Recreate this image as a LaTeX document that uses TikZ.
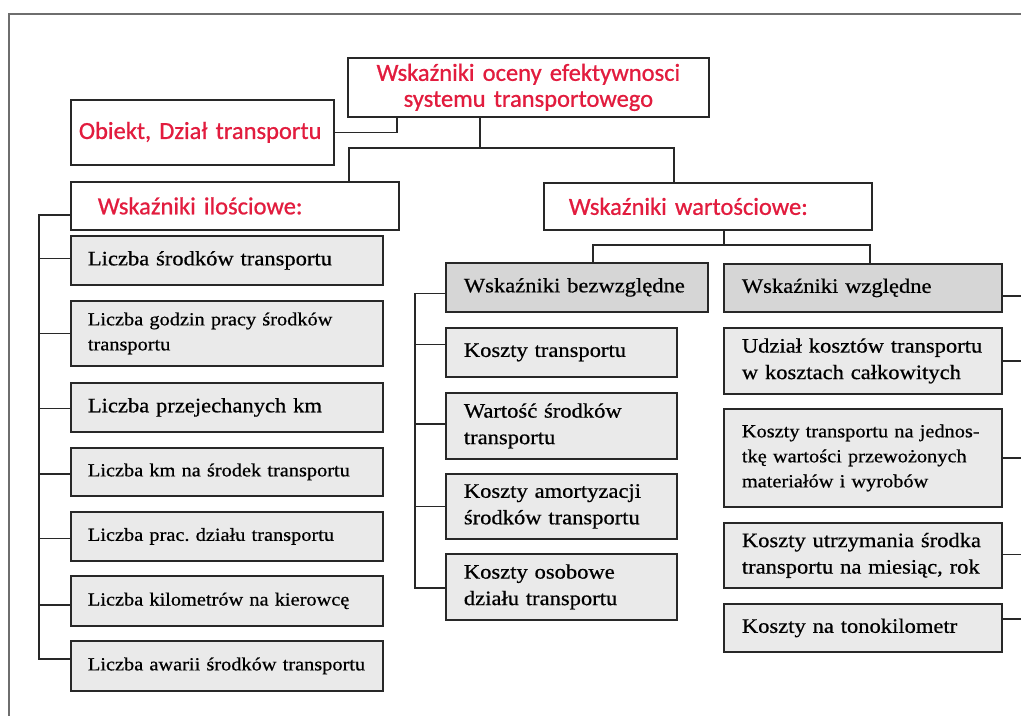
\documentclass[tikz,border=0pt]{standalone}
\usepackage{fontspec}
\setmainfont{Liberation Serif}[FakeStretch=1.1,FakeBold=0.6]
\newfontfamily\redfont{Carlito}[FakeBold=0.8]
\usetikzlibrary{calc}
\frenchspacing
\definecolor{redt}{RGB}{226,28,62}
\definecolor{boxline}{RGB}{40,40,40}
\definecolor{itemfill}{RGB}{234,234,234}
\definecolor{headfill}{RGB}{214,214,214}
\definecolor{framec}{RGB}{110,110,110}
\newcommand{\fsL}{\fontsize{20.5}{26.5}\selectfont}
\newcommand{\fsS}{\fontsize{18.5}{25}\selectfont}
\tikzset{
  base/.style={draw=boxline, line width=1.8pt, anchor=north west, rectangle, inner ysep=0pt, align=left},
  redbox/.style={base, fill=white, text=redt, font=\redfont\fontsize{24.5}{26}\selectfont},
  item/.style={base, fill=itemfill, text=black},
  head/.style={base, fill=headfill, text=black},
  conn/.style={draw=boxline, line width=1.6pt},
  sz/.code n args={3}{\pgfmathsetmacro\tw{#1-2*#3}\tikzset{minimum width=#1pt, minimum height=#2pt, inner xsep=#3pt, text width=\tw pt}},
}
\begin{document}
\begin{tikzpicture}[x=1pt,y=1pt]
\useasboundingbox (0,0) rectangle (1021,-716);
% frame
\coordinate (fa) at (1021,-14);
\coordinate (fb) at (9,-14);
\coordinate (fc) at (9,-716);
\draw[framec, line width=1.8pt] (fa) -- (fb) -- (fc);
\coordinate (edge) at (1021,0);

% top level
\node[redbox, sz={361}{59}{10}, align=center] (root) at (347,-57) {Wskaźniki oceny efektywnosci\\systemu transportowego};
\node[redbox, sz={263}{65}{8}] (ob) at (70,-99) {Obiekt, Dział transportu};
\node[redbox, sz={328}{48}{27}] (il) at (70,-181) {Wskaźniki ilościowe:};
\node[redbox, sz={328}{47}{25}] (wa) at (543,-182) {Wskaźniki wartościowe:};

% left column
\node[item, sz={312}{49}{17}, font=\fsL] (l1) at (70,-235) {Liczba środków transportu};
\node[item, sz={312}{65}{17}, font=\fsS] (l2) at (70,-300) {Liczba godzin pracy środków\\transportu};
\node[item, sz={312}{49}{17}, font=\fsL] (l3) at (70,-382) {Liczba przejechanych km};
\node[item, sz={312}{48}{17}, font=\fsS] (l4) at (70,-447) {Liczba km na środek transportu};
\node[item, sz={312}{49}{17}, font=\fsS] (l5) at (70,-511) {Liczba prac. działu transportu};
\node[item, sz={312}{50}{17}, font=\fsS] (l6) at (70,-575) {Liczba kilometrów na kierowcę};
\node[item, sz={312}{50}{17}, font=\fsS] (l7) at (70,-640) {Liczba awarii środków transportu};

% middle column
\node[head, sz={262}{49}{18}, font=\fsL] (bz) at (445,-262) {Wskaźniki bezwzględne};
\node[item, sz={231}{49}{18}, font=\fsL] (m1) at (445,-327) {Koszty transportu};
\node[item, sz={231}{66}{18}, font=\fsL] (m2) at (445,-392) {Wartość środków\\transportu};
\node[item, sz={231}{65}{18}, font=\fsL] (m3) at (445,-473) {Koszty amortyzacji\\środków transportu};
\node[item, sz={231}{66}{18}, font=\fsL] (m4) at (445,-553) {Koszty osobowe\\działu transportu};

% right column
\node[head, sz={278}{48}{18}, font=\fsL] (wz) at (723,-263) {Wskaźniki względne};
\node[item, sz={278}{66}{18}, font=\fsL] (r1) at (723,-327) {Udział kosztów transportu\\w kosztach całkowitych};
\node[item, sz={278}{98}{18}, font=\fsS] (r2) at (723,-408) {Koszty transportu na jednos-\\tkę wartości przewożonych\\materiałów i wyrobów};
\node[item, sz={278}{65}{18}, font=\fsL] (r3) at (723,-522) {Koszty utrzymania środka\\transportu na miesiąc, rok};
\node[item, sz={278}{48}{18}, font=\fsL] (r4) at (723,-603) {Koszty na tonokilometr};

% connectors: top
\coordinate (rj) at (397,-116);
\draw[conn] (ob.east) -| (rj);
\coordinate (rootb) at (480,-116);
\coordinate (bus) at (480,-148);
\coordinate (ilt) at (349,-181);
\coordinate (wat) at (674,-182);
\draw[conn] (rootb) -- (bus);
\draw[conn] (ilt) |- (bus) -| (wat);

% left bus
\coordinate (ilw) at (70,-215);
\coordinate (lb) at (39,-215);
\coordinate (l7s) at ($(l7.west)+(0,7)$);
\draw[conn] (ilw) -- (lb) |- (l7s);
\foreach \n/\s in {l1/2,l2/0,l3/-1,l4/-2,l5/-2,l6/-4}{
  \draw[conn] ($(\n.west)+(0,\s)$) coordinate (t) -- (t -| lb);
}

% value branch
\coordinate (wab) at (724,-229);
\coordinate (wbus) at (724,-245);
\coordinate (bzt) at (593,-262);
\coordinate (wzt) at (870,-263);
\draw[conn] (wab) -- (wbus);
\draw[conn] (bzt) |- (wbus) -| (wzt);

% middle bus
\coordinate (bzw) at ($(bz.west)+(0,-6)$);
\coordinate (mb) at (415,0);
\coordinate (m4s) at ($(m4.west)+(0,-1)$);
\draw[conn] (bzw) -- (bzw -| mb) |- (m4s);
\foreach \n/\s in {m1/8,m2/2,m3/0}{
  \draw[conn] ($(\n.west)+(0,\s)$) coordinate (t) -- (t -| mb);
}

% right stubs
\foreach \n/\s in {wz/-8,r1/0,r2/0,r3/1,r4/9}{
  \draw[conn] ($(\n.east)+(0,\s)$) coordinate (t) -- (t -| edge);
}
\end{tikzpicture}
\end{document}
